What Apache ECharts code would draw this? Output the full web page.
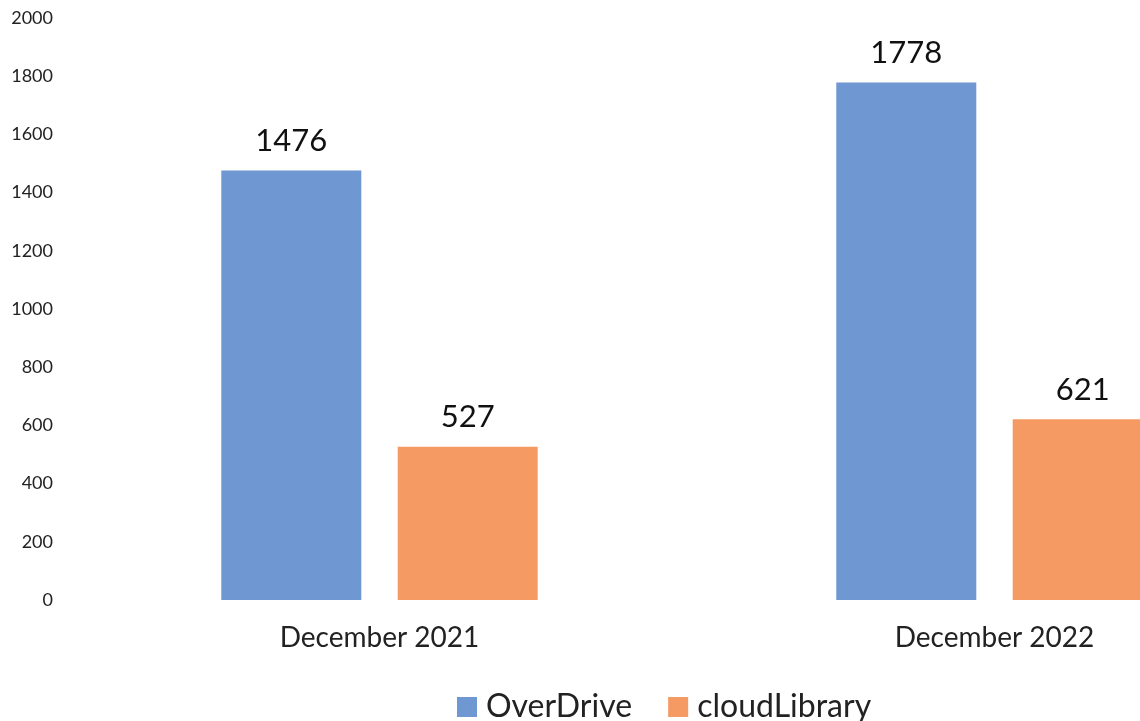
<!DOCTYPE html>
<html>
<head>
<meta charset="utf-8">
<script src="https://cdn.jsdelivr.net/npm/echarts@6/dist/echarts.min.js"></script>
<style>
  html, body { margin: 0; padding: 0; background: #fff; overflow: hidden; }
  /* the chart is wider than the window: the right-hand bar is cut off as in the original */
  #main { width: 1302px; height: 721px; }
</style>
</head>
<body>
<div id="main"></div>
<script>
const categories = ["December 2021", "December 2022"];
const overDrive = [1476, 1778];
const cloudLibrary = [527, 621];
const yTicks = { min: 0, max: 2000, interval: 200 };

const chart = echarts.init(document.getElementById("main"));
const font = "Lato, 'Open Sans', sans-serif";

const option = {
  backgroundColor: "#fff",
  textStyle: { fontFamily: font },
  legend: {
    data: ["OverDrive", "cloudLibrary"],
    left: 452,
    top: 686,
    itemWidth: 20,
    itemHeight: 20,
    itemGap: 36,
    icon: "rect",
    textStyle: { fontSize: 32, color: "#222", fontFamily: font, padding: [0, 0, 0, 4] }
  },
  grid: {
    left: 72,
    top: 18,
    right: 0,
    height: 582
  },
  xAxis: {
    type: "category",
    data: categories,
    axisLine: { show: false },
    axisTick: { show: false },
    axisLabel: { fontSize: 28, color: "#222", margin: 24, fontFamily: font }
  },
  yAxis: {
    type: "value",
    min: yTicks.min,
    max: yTicks.max,
    interval: yTicks.interval,
    axisLine: { show: false },
    axisTick: { show: false },
    splitLine: { show: false },
    axisLabel: {
      fontSize: 18,
      color: "#222",
      margin: 19,
      fontFamily: font,
      formatter: (v) => String(v)
    }
  },
  series: [
    {
      name: "OverDrive",
      type: "bar",
      data: overDrive,
      barWidth: 140,
      barGap: "26%",
      itemStyle: { color: "#6f98d3" },
      label: { show: true, position: "top", distance: 14, fontSize: 31, color: "#111", fontFamily: font }
    },
    {
      name: "cloudLibrary",
      type: "bar",
      data: cloudLibrary,
      barWidth: 140,
      itemStyle: { color: "#f59a62" },
      label: { show: true, position: "top", distance: 14, fontSize: 31, color: "#111", fontFamily: font }
    }
  ]
};
chart.setOption(option);
</script>
</body>
</html>
